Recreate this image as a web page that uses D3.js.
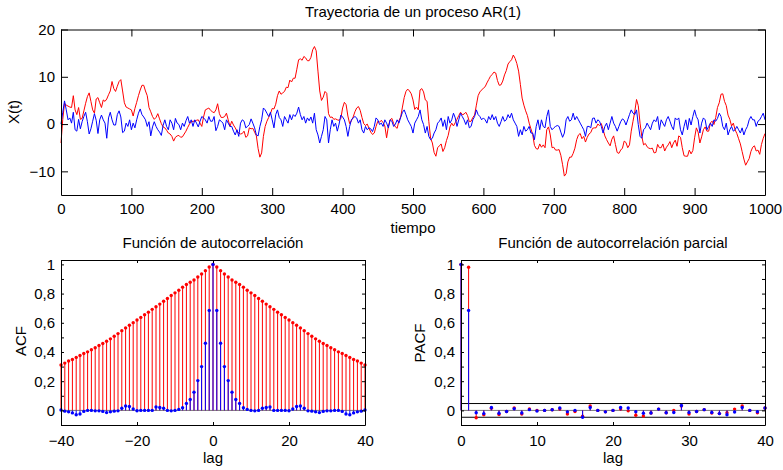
<!DOCTYPE html>
<html><head><meta charset="utf-8">
<script src="https://cdn.jsdelivr.net/npm/d3@7"></script>
<style>
body{margin:0;background:#fff}
svg{display:block}
text{font-family:"Liberation Sans",Arial,Helvetica,sans-serif;fill:#000}
</style></head><body>
<svg id="c" width="783" height="470"></svg>
<script>
// ---------- data (t = 0..1000 every 2.5) ----------
const timeStep = 2.5;
const redSeries = [
-4,1,4.4,4,3.8,3.6,3.5,6,3,2, 3.5,1,1.2,2.8,4.4,5.8,6.6,4.8,3,2.3, 5.3,5.6,4.5,3.5,5.1,4.8,5.3,6.2,7,9,
7.5,6.9,8,9,9.4,7,4.5,3.6,3.4,3.2, 3,1.7,3.3,4.6,6,7.2,8.2,8.2,7,6, 3.5,2.6,1.6,1,1.4,2.2,1.1,0.1,-0.6,-0.8,
-1.3,-1.9,-2.1,-2.6,-3.6,-2.8,-2.5,
-2.4,-2.8,-2.7,-2.1,-1.5,-0.7,0,0.5,0.6,0.6, 0.8,0.9,0.2,-0.5,1.5,3,3.2,3.4,2.9,2.6, 2.4,3,4.3,2.2,1.4,1.4,1.6,2.3,0.9,-0.5,
0.6,-0.2,-0.8,-1.5,-1.9,-2.1,-2,-1.5,-2.8,-2.5, -0.8,-1,-0.9,-1.7,-2.5,-5.2,-7,-6.1,-2.6,-0.5, 0.6,1.4,2.2,3.3,3.2,4.2,6,7,6.3,6.6,
6.9,7.8,7.7,9.3,8.9,9.7,9.7,11.6,
13.6,13.8,13.5,14.3,14,13.4,13.4,14.1,15.7,16.4, 15.5,11.2,7,5,5.7,6.9,6.5,2.2,1.4,1.5, 1,1.1,0.9,0.8,1.2,3.4,4.6,4.1,1.7,0.1,
0.7,1.5,2.6,3.4,3.7,2.9,1.4,0.1,-0.3,0, -0.9,-1.7,-2.2,-1.9,-0.5,0.6,0.4,0.8,0.3,-0.4, -2.9,-0.5,0.9,1.2,0.1,-0.6,-0.9,0.7,1.5,3.6,
5.6,6.9,7.4,7,6.4,5.1,3.1,3.6,
3,7.2,7.5,6.8,5.1,4.8,0.5,-3,-4,-6, -6.8,-5,-4.6,-4.2,-5.8,-5,-3.5,-2.4,-0.6,0.2, -0.4,0.3,1,1.8,2.5,2,2.1,2.5,1.8,0.5,
0.6,1.4,1.9,4,6,6.8,7.2,7.6,7.9,8.7, 9.4,10.1,10.5,11,10.8,9.2,8.2,8.3,9.1,10.4, 11.3,12.7,13.2,13.6,14.6,13.9,12.8,11.2,8.4,5.5,
4,2.8,1.8,0.2,-1,-2.2,-4.5,-5.2,
-5.3,-4.2,-4.9,-4.4,-5,-1.2,-0.6,-2.3,-5,-4.9, -5.5,-5.5,-5.4,-6.6,-8.6,-11,-10.5,-8,-7,-7, -6.2,-5.1,-3.3,-2.3,-2,-3.1,-2.6,-3.8,-2.8,-2.1,
-1.8,-0.9,-0.8,-0.8,0,-0.3,0.1,-1.1,-2.5,-3.3, -4,-4.6,-3.2,-2.5,-4.3,-6,-6.2,-5.5,-5.1,-3.6, -3.9,-5,-4.4,-1.5,0.6,2.6,5.2,3.9,0.2,-2.6,
-4.4,-4.1,-4.8,-5.1,-5.2,-5.1,-6.1,-6,
-4.3,-5,-5,-4.2,-5.7,-4.9,-4.4,-3.7,-5,-4, -3.4,-4.7,-2.5,-2.8,-5,-6.7,-6.8,-6.8,-5.5,-6.3, -5.6,-2.9,-0.8,-1.7,-4,-2.7,-1.2,-0.6,-1.5,-1.5,
0.3,0.6,-0.1,1.4,3.5,4.5,6.3,6.4,4.8,3.9, 1.9,1,-0.4,0.2,-1.2,-2,-3.1,-4.2,-5.8,-7.4, -8.7,-8,-7.3,-5.8,-4.9,-4.6,-5.7,-5.5,-6.4,-4.3,
-3,-2];
const blueSeries = [
0,2.5,4.9,3,0.9,1.3,0.2,2.5,-1.2,-1.5, 1,-1,0.5,1.6,2.5,0.5,-2.1,-1,0.6,2.2, 0.8,-2,0.9,1.9,0.9,0.2,-3,1.3,2.5,0.9,
-0.2,-0.2,2,2.8,1.5,-1.8,-1.5,0.2,-0.5,0.9, -1.2,0.2,-0.8,0.9,2.3,3.2,2,1.5,0.9,-0.5, 0.5,-2.5,-0.6,0.5,-0.5,-1.2,-1.7,-2.4,-0.3,0.9,
-0.5,-1.2,0.9,0.2,-1.2,1.2,0.2,
-0.1,-1.2,0.2,-0.5,0.7,1.6,0.2,0.9,-0.5,0.9, 0.2,-0.6,0.6,1.6,1.3,0.9,0.2,1.6,0.6,0.6, 1.6,-1.4,-0.5,0.9,0.6,0.2,-1.2,0.9,0.2,-0.5,
-0.5,-1.5,-2.3,-1.2,-2.6,0.2,0.9,0.6,-0.8,-0.5, -0.1,1.1,0.2,-0.8,-2.3,-2.5,-0.5,0.9,3.4,3, 2.3,1.6,2.5,0.9,-0.8,2,3,1.4,0.9,-0.5,
1.6,0.9,0.2,2,0.9,2,1.6,2.3,
3.6,2,0.9,1.6,0.2,1.3,0.7,1.5,0.2,2.3, -1.2,-2.3,-4,-2.6,-1.2,1.6,0.9,-4,-1.2,0.9, -0.5,0.2,-1.5,0,1.9,1.5,0.9,-0.5,-2.6,-0.5,
0.9,1.3,1.6,1.3,0.2,0.9,-1.2,-1.9,-0.5,-1.2, -0.8,-1,-1.6,-0.5,1.3,0.9,-0.1,0.2,-0.5,0.9, 0.2,-0.8,0.9,0.6,-0.5,0,0.9,0.2,1.4,2.5,
3,2,0.9,0.2,-0.5,-1.9,0.2,0.9,
1.6,3,0.9,-0.1,-1.9,-0.5,-2.6,-3.3,-3,-1.9, -1.2,0.2,0.6,1.3,-0.5,0.9,-1.2,1.6,0.2,0.9, 2.3,1.3,-0.5,0.9,2.3,1.6,0.9,-0.1,0.9,-0.8,
-0.5,0.9,1.6,3,2,1.6,0.9,1.3,0.9,0.2, 1.6,0.9,2,0.9,1.6,0.2,-0.5,0.5,1.6,0.6, 0.9,2,1.3,2.3,0.9,0.2,-0.5,-2.6,-1.2,-2.3,
-0.5,-1.5,-1.2,-0.5,-1.9,-1.9,-3.3,-0.5,
0.9,-1.2,0.9,-0.5,-0.8,1.6,3,-0.5,-1.2,-0.8, -0.5,-0.3,-0.5,-1.7,-2.8,-1.9,0.9,1.6,0.6,0.9, 2.3,0.9,1.6,0.9,0.2,-0.5,-1.2,-2.6,-0.5,-0.5,
-0.8,1.2,1.3,0.2,0.9,0.6,-0.5,-1.9,-0.5,0.2, -1.2,0.2,1.6,0.2,-0.5,-1.5,-0.5,0.5,1.1,0.8, -0.2,0.9,2,3,2.3,2,3,-0.1,-2.6,-3,
-1.2,-0.8,0.2,-0.5,-1.2,0.2,0.9,0.5,
1.6,-1.2,0.9,0.2,-0.5,0.9,1.6,0.6,-0.5,-1.2, 1.3,0.9,1.3,-1.2,-2.3,-0.5,0.9,-1.2,1.2,-0.2, 1.6,3,1.6,0.9,-1.9,0.2,1.3,0.9,-1.2,-0.5,
0.2,-0.5,0.9,0.6,1.2,2.3,1.6,-0.5,-1.2,0.2, -2.3,-1.2,-0.5,-1.5,-1.2,-0.5,-1.2,-1.9,-0.8,-2.3, -1.2,-0.5,0.9,1.6,0.9,0.9,-0.5,0.6,0.9,1.6,
2.3,0.9];
const acfLags = d3.range(0, 41);
const acfRed = [1,0.982,0.957,0.934,0.914,0.893,0.878,0.862,0.844,0.823,0.805,0.787,0.766,0.748,0.728,0.710,0.692,0.673,0.655,0.637,
0.619,0.601,0.583,0.565,0.546,0.526,0.508,0.490,0.474,0.458,0.444,0.429,0.415,0.401,0.390,0.376,0.363,0.349,0.338,0.324,0.311];
const acfBlue = [1,0.685,0.46,0.30,0.204,0.125,0.075,0.048,0.018,0.007,0,-0.003,0,0.015,0.02,0.024,0,0,0,0,
-0.002,0.01,0.027,0.03,0.015,-0.003,-0.005,-0.01,-0.015,-0.007,-0.003,-0.003,0,0,-0.007,-0.025,-0.03,-0.017,-0.01,-0.005,0.003];
const pacfLags = d3.range(0, 41);
const pacfRed = [1,0.98,-0.05,-0.03,0.015,-0.028,-0.008,0.017,-0.025,0.01,0,0,0.004,0.01,-0.025,-0.008,-0.04,0.03,0,-0.01,
0,0.01,-0.003,-0.033,-0.038,-0.018,0.009,-0.016,0,0.03,-0.025,-0.008,0.005,-0.018,-0.022,-0.016,0.009,0.03,0,-0.016,0.017];
const pacfBlue = [1,0.685,-0.016,-0.022,0.02,-0.02,-0.008,0.012,-0.018,0.005,-0.004,0,0.004,0.017,-0.01,0,-0.047,0.02,0,-0.01,
0,0.02,0.017,-0.009,-0.02,-0.018,0.009,-0.016,-0.014,0.034,-0.014,-0.008,0.005,-0.014,-0.022,-0.03,-0.011,0.02,0,-0.009,0.017];
const pacfBound = 0.047;
const topXTicks = d3.range(0, 1001, 100);
const topYTicks = [-10, 0, 10, 20];
const acfXTicks = [-40, -20, 0, 20, 40];
const pacfXTicks = [0, 10, 20, 30, 40];
const corrYTicks = d3.range(-1, 11).map(i => i / 10);
const titles = ["Trayectoria de un proceso AR(1)", "Función de autocorrelación", "Función de autocorrelación parcial"];

// ---------- drawing ----------
const RED = "#ff0000", BLUE = "#0000ff";
const svg = d3.select("#c");
const loc = d3.formatLocale({decimal: ",", thousands: ".", grouping: [3], currency: ["", ""], minus: "\u2212"});
const fmt = loc.format("~g");
const FS = 15;

function frame(g, x, y, xt, yt, tick, yLabelFn, pad) {
  const [x0, x1] = x.range(), [y0, y1] = y.range();
  g.append("g").attr("transform", `translate(0,${y0})`)
    .call(d3.axisBottom(x).tickValues(xt).tickSize(-tick).tickSizeOuter(0).tickPadding(pad).tickFormat(fmt));
  g.append("g").attr("transform", `translate(0,${y1})`)
    .call(d3.axisTop(x).tickValues(xt).tickSize(-tick).tickSizeOuter(0).tickFormat(""));
  g.append("g").attr("transform", `translate(${x0},0)`)
    .call(d3.axisLeft(y).tickValues(yt).tickSize(-tick).tickSizeOuter(0).tickPadding(6).tickFormat(yLabelFn));
  g.append("g").attr("transform", `translate(${x1},0)`)
    .call(d3.axisRight(y).tickValues(yt).tickSize(-tick).tickSizeOuter(0).tickFormat(""));
  g.selectAll(".tick line").attr("stroke", "#000");
  g.selectAll(".domain").attr("stroke", "#000");
  g.selectAll(".tick text").attr("font-size", FS).attr("font-family", '"Liberation Sans",Arial,sans-serif').attr("fill", "#000");
}

// Top panel
{
  const x = d3.scaleLinear().domain([0, 1000]).range([61, 765]);
  const y = d3.scaleLinear().domain([-15, 20]).range([195, 29.5]);
  const g = svg.append("g");
  const line = d3.line().x((d, i) => x(i * timeStep)).y(d => y(d));
  g.append("path").datum(redSeries).attr("d", line).attr("fill", "none").attr("stroke", RED).attr("stroke-width", 1);
  g.append("path").datum(blueSeries).attr("d", line).attr("fill", "none").attr("stroke", BLUE).attr("stroke-width", 1);
  frame(g, x, y, topXTicks, topYTicks, 7, fmt, 8);
  g.append("text").attr("x", 413).attr("y", 17).attr("text-anchor", "middle").attr("font-size", FS).text(titles[0]);
  g.append("text").attr("x", 413).attr("y", 233).attr("text-anchor", "middle").attr("font-size", FS).text("tiempo");
  g.append("text").attr("transform", "translate(19,112) rotate(-90)").attr("text-anchor", "middle").attr("font-size", FS).text("X(t)");
}

function stems(g, x, y, lags, vals, color) {
  g.append("g").selectAll("line").data(lags).join("line")
    .attr("x1", (d) => x(d)).attr("x2", (d) => x(d))
    .attr("y1", y(0)).attr("y2", (d, i) => y(vals[i]))
    .attr("stroke", color).attr("stroke-width", 1);
  g.append("g").selectAll("circle").data(lags).join("circle")
    .attr("cx", (d) => x(d)).attr("cy", (d, i) => y(vals[i])).attr("r", 1.7).attr("fill", color);
}
const corrLabel = d => (Math.round(d * 10) % 2 === 0 && d >= 0) ? fmt(d) : "";

// ACF
{
  const x = d3.scaleLinear().domain([-40, 40]).range([61, 365]);
  const y = d3.scaleLinear().domain([-0.1, 1.03]).range([425, 260]);
  const g = svg.append("g");
  const lags = acfLags.slice(1).map(l => -l).reverse().concat(acfLags);
  const red = acfRed.slice(1).reverse().concat(acfRed);
  const blue = acfBlue.slice(1).reverse().concat(acfBlue);
  g.append("line").attr("x1", x(-40)).attr("x2", x(40)).attr("y1", y(0)).attr("y2", y(0)).attr("stroke", "#777");
  stems(g, x, y, lags, red, RED);
  stems(g, x, y, lags, blue, BLUE);
  frame(g, x, y, acfXTicks, corrYTicks, 3, corrLabel, 10);
  g.append("text").attr("x", 213).attr("y", 248).attr("text-anchor", "middle").attr("font-size", FS).text(titles[1]);
  g.append("text").attr("x", 213).attr("y", 463).attr("text-anchor", "middle").attr("font-size", FS).text("lag");
  g.append("text").attr("transform", "translate(26,341) rotate(-90)").attr("text-anchor", "middle").attr("font-size", FS).text("ACF");
}

// PACF
{
  const x = d3.scaleLinear().domain([0, 40]).range([461, 765]);
  const y = d3.scaleLinear().domain([-0.1, 1.03]).range([425, 260]);
  const g = svg.append("g");
  g.append("line").attr("x1", x(0)).attr("x2", x(40)).attr("y1", y(0)).attr("y2", y(0)).attr("stroke", "#777");
  [pacfBound, -pacfBound].forEach(b =>
    g.append("line").attr("x1", x(0)).attr("x2", x(40)).attr("y1", y(b)).attr("y2", y(b)).attr("stroke", "#000"));
  stems(g, x, y, pacfLags, pacfRed, RED);
  stems(g, x, y, pacfLags, pacfBlue, BLUE);
  frame(g, x, y, pacfXTicks, corrYTicks, 3, corrLabel, 10);
  g.append("text").attr("x", 613).attr("y", 248).attr("text-anchor", "middle").attr("font-size", FS).text(titles[2]);
  g.append("text").attr("x", 613).attr("y", 463).attr("text-anchor", "middle").attr("font-size", FS).text("lag");
  g.append("text").attr("transform", "translate(425,343) rotate(-90)").attr("text-anchor", "middle").attr("font-size", FS).text("PACF");
}
</script></body></html>
